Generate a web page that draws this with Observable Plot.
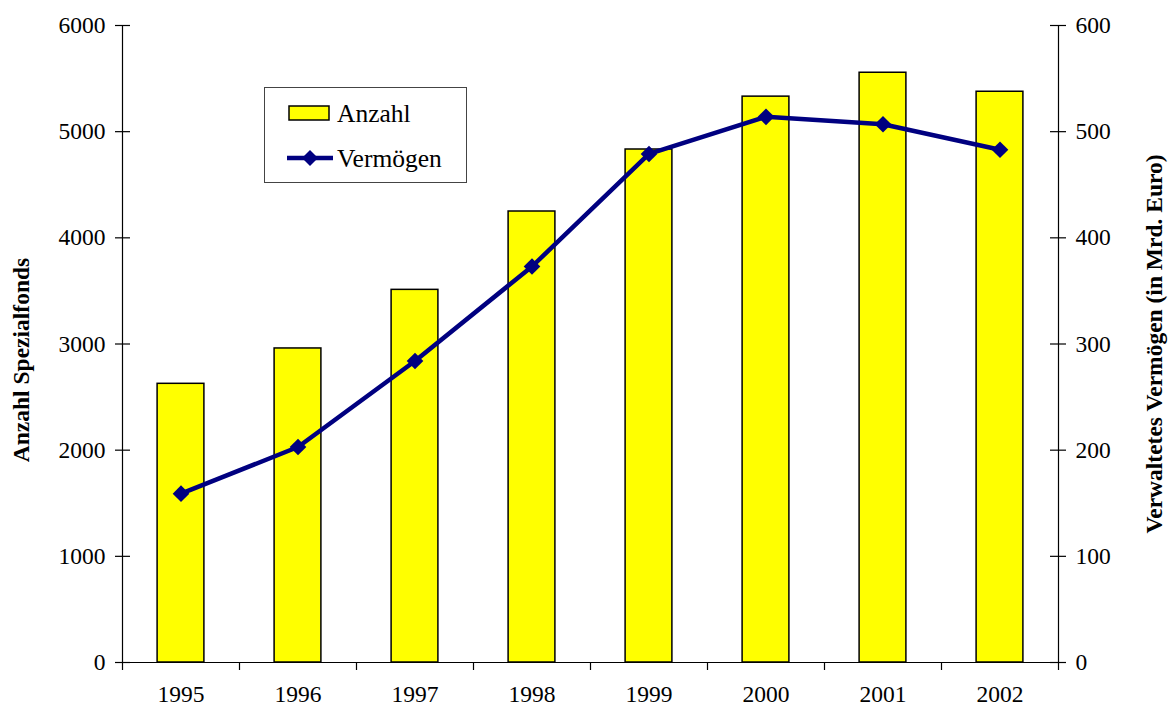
<!DOCTYPE html>
<html>
<head>
<meta charset="utf-8">
<script src="https://cdn.jsdelivr.net/npm/d3@7"></script>
<script src="https://cdn.jsdelivr.net/npm/@observablehq/plot@0.6"></script>
<style>
  html, body { margin: 0; padding: 0; background: #fff; }
  #wrap { position: relative; width: 1168px; height: 705px; }
  #legend { position: absolute; left: 264px; top: 87px; width: 201px; height: 94px;
            border: 1px solid #444; background: #fff; font-family: "Liberation Serif", serif; }
</style>
</head>
<body>
<div id="wrap"></div>
<script>
const years = [1995, 1996, 1997, 1998, 1999, 2000, 2001, 2002];
const anzahl = [2625, 2958, 3510, 4248, 4832, 5330, 5555, 5376];
const vermoegen = [159, 203, 284, 373, 479, 514, 507, 483];
const leftTicks = [0, 1000, 2000, 3000, 4000, 5000, 6000];
const rightTicks = [0, 100, 200, 300, 400, 500, 600];
const leftTitle = "Anzahl Spezialfonds";
const rightTitle = "Verwaltetes Vermögen (in Mrd. Euro)";
const seriesNames = ["Anzahl", "Vermögen"];

const ratio = 6000 / 600;
const bars = years.map((y, i) => ({year: y, value: anzahl[i]}));
const line = years.map((y, i) => ({year: y, value: vermoegen[i] * ratio}));
const bounds = d3.range(years.length + 1).map(i => years[0] - 0.5 + i);
const x0 = bounds[0], x1 = bounds[bounds.length - 1];

const navy = "#000080";
const yellow = "#ffff00";
const fs = 23.5;

const chart = Plot.plot({
  width: 1168,
  height: 705,
  marginLeft: 122,
  marginRight: 110,
  marginTop: 25,
  marginBottom: 43,
  style: {fontFamily: "Liberation Serif, serif", fontSize: fs + "px", color: "#000", background: "#fff", overflow: "visible"},
  x: {domain: [x0, x1]},
  y: {domain: [0, 6000]},
  marks: [
    Plot.rectY(bars, {x1: d => d.year - 0.2, x2: d => d.year + 0.2, y1: 0, y2: "value",
      fill: yellow, stroke: "#000", strokeWidth: 1.5}),
    // axis lines
    Plot.ruleX([x0, x1], {y1: 0, y2: 6000, stroke: "#000", strokeWidth: 1.2}),
    Plot.ruleY([0], {x1: x0, x2: x1, stroke: "#000", strokeWidth: 1.2}),
    // crossing tick marks
    Plot.ruleY(leftTicks, {y: d => d, x1: x0, x2: x0, insetLeft: -7, insetRight: -8, stroke: "#000", strokeWidth: 1.2}),
    Plot.ruleY(leftTicks, {y: d => d, x1: x1, x2: x1, insetLeft: -8, insetRight: -8, stroke: "#000", strokeWidth: 1.2}),
    Plot.ruleX(bounds, {x: d => d, y1: 0, y2: 0, insetBottom: -8, stroke: "#000", strokeWidth: 1.2}),
    // labels
    Plot.axisY(leftTicks, {anchor: "left", tickSize: 0, tickPadding: 17, label: null, fontSize: fs, tickFormat: d => String(d)}),
    Plot.axisY(leftTicks, {anchor: "right", tickSize: 0, tickPadding: 17, label: null, fontSize: fs, tickFormat: (d, i) => String(rightTicks[i])}),
    Plot.axisX(years, {anchor: "bottom", tickSize: 0, tickPadding: 23, label: null, fontSize: fs, tickFormat: d => String(d)}),
    // line
    Plot.line(line, {x: "year", y: "value", stroke: navy, strokeWidth: 4.5, strokeLinejoin: "round"}),
    Plot.dot(line, {x: "year", y: "value", symbol: "diamond2", r: 7.5, fill: navy, stroke: "none"}),
    // titles
    Plot.text([leftTitle], {frameAnchor: "left", dx: -101, dy: 16, rotate: -90, textAnchor: "middle", fontWeight: "bold", fontSize: 23.5, text: d => d}),
    Plot.text([rightTitle], {frameAnchor: "right", dx: 96, dy: 0, rotate: -90, textAnchor: "middle", fontWeight: "bold", fontSize: 23.5, text: d => d})
  ]
});

const wrap = document.getElementById("wrap");
wrap.appendChild(chart);

const legend = document.createElement("div");
legend.id = "legend";
legend.innerHTML = `
<svg width="201" height="94" style="display:block">
  <rect x="24" y="18" width="40" height="14" fill="${yellow}" stroke="#000" stroke-width="1.5"></rect>
  <text x="72" y="25" dy="0.35em" font-size="25.5" font-family="Liberation Serif, serif">${seriesNames[0]}</text>
  <line x1="22" x2="68" y1="70" y2="70" stroke="${navy}" stroke-width="4.5"></line>
  <path d="M45,62 L53,70 L45,78 L37,70 Z" fill="${navy}"></path>
  <text x="72" y="70" dy="0.35em" font-size="25.5" font-family="Liberation Serif, serif">${seriesNames[1]}</text>
</svg>`;
wrap.appendChild(legend);
</script>
</body>
</html>
